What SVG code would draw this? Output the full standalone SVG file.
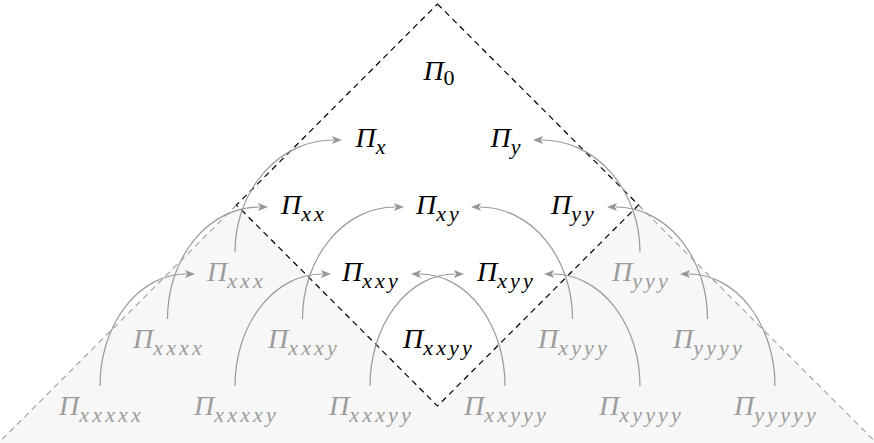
<svg xmlns="http://www.w3.org/2000/svg" width="874" height="443" viewBox="0 0 874 443">
<style>
text{font-family:'Liberation Serif','Times New Roman',serif;font-style:italic;font-size:28px;text-anchor:middle}
tspan.sub{font-size:22px;letter-spacing:3.2px}
tspan.up{font-style:normal;letter-spacing:0}
.dark{fill:#000}
.light{fill:#9c9c9c}
.arc{fill:none;stroke:#999;stroke-width:1.2;marker-end:url(#ah)}
.dk{fill:none;stroke:#000;stroke-width:1.2;stroke-dasharray:6 4.5}
.lt{fill:none;stroke:#a0a0a0;stroke-width:1.1;stroke-dasharray:6 4.5}
</style>
<defs>
<marker id="ah" viewBox="0 0 10 8" refX="1" refY="4" markerWidth="10" markerHeight="8" markerUnits="userSpaceOnUse" orient="auto">
<path d="M0,0 L10,4 L0,8 L2,4 z" fill="#999"/>
</marker>
</defs>
<rect width="874" height="443" fill="#fff"/>
<g id="region">
<polygon points="-1,443 -1,442 236.5,205 437.5,406 638.5,205 875.5,442 875.5,443" fill="#f7f7f7"/>
<polyline class="lt" points="236.5,205 0,441.5"/>
<polyline class="lt" points="638.5,205 875,441.5"/>
<polygon class="dk" points="437.5,4 638.5,205 437.5,406 236.5,205"/>
</g>
<g id="connectors">
<path class="arc" d="M235,252 A98,112 0 0 1 333,140"/>
<path class="arc" d="M167.5,319 A91.5,112 0 0 1 259,207"/>
<path class="arc" d="M100,386 A86,112 0 0 1 186,274"/>
<path class="arc" d="M302.5,319 A92.5,112 0 0 1 395,207"/>
<path class="arc" d="M235,386 A87,112 0 0 1 322,274"/>
<path class="arc" d="M370,386 A85,112 0 0 1 455,274"/>
<path class="arc" d="M640,252 A98,112 0 0 0 542,140"/>
<path class="arc" d="M707.5,319 A91.5,112 0 0 0 616,207"/>
<path class="arc" d="M775,386 A86,112 0 0 0 689,274"/>
<path class="arc" d="M572.5,319 A92.5,112 0 0 0 480,207"/>
<path class="arc" d="M640,386 A87,112 0 0 0 553,274"/>
<path class="arc" d="M505,386 A85,112 0 0 0 420,274"/>
</g>
<g id="n0"><text class="dark" x="439" y="80">Π<tspan class="sub up" dy="5">0</tspan></text></g>
<g id="nx"><text class="dark" x="372" y="147">Π<tspan class="sub" dy="7">x</tspan></text></g>
<g id="ny"><text class="dark" x="507" y="147">Π<tspan class="sub" dy="7">y</tspan></text></g>
<g id="nxx"><text class="dark" x="304" y="214">Π<tspan class="sub" dy="7">xx</tspan></text></g>
<g id="nxy"><text class="dark" x="439" y="214">Π<tspan class="sub" dy="7">xy</tspan></text></g>
<g id="nyy"><text class="dark" x="574" y="214">Π<tspan class="sub" dy="7">yy</tspan></text></g>
<g id="nxxx"><text class="light" x="236.5" y="281">Π<tspan class="sub" dy="7">xxx</tspan></text></g>
<g id="nxxy"><text class="dark" x="371.5" y="281">Π<tspan class="sub" dy="7">xxy</tspan></text></g>
<g id="nxyy"><text class="dark" x="506.5" y="281">Π<tspan class="sub" dy="7">xyy</tspan></text></g>
<g id="nyyy"><text class="light" x="641.5" y="281">Π<tspan class="sub" dy="7">yyy</tspan></text></g>
<g id="nxxxx"><text class="light" x="169" y="348">Π<tspan class="sub" dy="7">xxxx</tspan></text></g>
<g id="nxxxy"><text class="light" x="304" y="348">Π<tspan class="sub" dy="7">xxxy</tspan></text></g>
<g id="nxxyy"><text class="dark" x="439" y="348">Π<tspan class="sub" dy="7">xxyy</tspan></text></g>
<g id="nxyyy"><text class="light" x="574" y="348">Π<tspan class="sub" dy="7">xyyy</tspan></text></g>
<g id="nyyyy"><text class="light" x="709" y="348">Π<tspan class="sub" dy="7">yyyy</tspan></text></g>
<g id="nxxxxx"><text class="light" x="101.5" y="415">Π<tspan class="sub" dy="7">xxxxx</tspan></text></g>
<g id="nxxxxy"><text class="light" x="236.5" y="415">Π<tspan class="sub" dy="7">xxxxy</tspan></text></g>
<g id="nxxxyy"><text class="light" x="371.5" y="415">Π<tspan class="sub" dy="7">xxxyy</tspan></text></g>
<g id="nxxyyy"><text class="light" x="506.5" y="415">Π<tspan class="sub" dy="7">xxyyy</tspan></text></g>
<g id="nxyyyy"><text class="light" x="641.5" y="415">Π<tspan class="sub" dy="7">xyyyy</tspan></text></g>
<g id="nyyyyy"><text class="light" x="776.5" y="415">Π<tspan class="sub" dy="7">yyyyy</tspan></text></g>
</svg>
